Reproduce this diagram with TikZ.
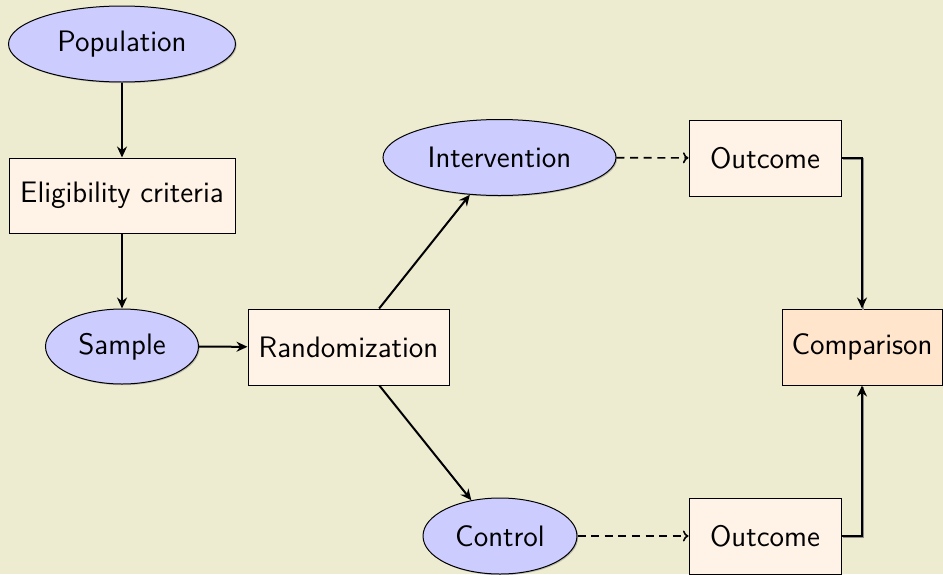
\documentclass[tikz,border=0pt]{standalone}
\usetikzlibrary{shapes.geometric,arrows.meta,shadows}
\definecolor{bgc}{RGB}{238,236,208}
\definecolor{ellfill}{RGB}{204,204,255}
\definecolor{boxfill}{RGB}{255,242,230}
\definecolor{cmpfill}{RGB}{255,229,204}
\begin{document}
\begin{tikzpicture}[x=0.5pt,y=-0.5pt,
  every node/.style={font=\sffamily\fontsize{14.8}{17}\selectfont, inner sep=0pt},
  shad/.style={drop shadow={shadow xshift=0.6pt,shadow yshift=-0.6pt,opacity=0.45}},
  ell/.style={ellipse, draw, line width=0.5pt, fill=ellfill, shad},
  box/.style={rectangle, draw, line width=0.5pt, fill=boxfill, shad},
  arr/.style={-{Stealth[length=5.5pt,width=5pt,inset=1.8pt]}, line width=1pt},
  darr/.style={-{To[length=2.8pt,width=5.5pt]}, line width=0.8pt, dash pattern=on 4pt off 2.8pt},
  elb/.style={-{Stealth[length=5.5pt,width=5pt,inset=1.8pt]}, line width=1.25pt},
  elbshad/.style={line width=1.25pt, black!45, transform canvas={xshift=0.6pt,yshift=-0.6pt}},
]
\fill[bgc] (0,0) rectangle (943,574);
\clip (0,0) rectangle (943,574);

\node[ell, minimum width=113.5pt, minimum height=38pt] (pop) at (122,44) {Population};
\node[box, minimum width=113pt, minimum height=37.5pt] (elig) at (122,195.5) {Eligibility criteria};
\node[ell, minimum width=76.5pt, minimum height=37.5pt] (samp) at (122,346.5) {Sample};
\node[box, minimum width=100.5pt, minimum height=38pt] (rand) at (348.5,347) {Randomization};
\node[ell, minimum width=116.5pt, minimum height=38pt] (int) at (499.5,157.5) {Intervention};
\node[ell, minimum width=77pt, minimum height=38pt] (ctrl) at (500,536) {Control};
\node[box, minimum width=76pt, minimum height=38pt] (out1) at (765,158) {Outcome};
\node[box, minimum width=76pt, minimum height=38pt] (out2) at (765,536) {Outcome};
\node[box, fill=cmpfill, minimum width=80pt, minimum height=38pt] (cmp) at (862,347) {Comparison};

\draw[arr] (pop) -- (elig);
\draw[arr] (elig) -- (samp);
\draw[arr] (samp) -- (rand);
\draw[arr] (rand) -- (int);
\draw[arr] (rand) -- (ctrl);
\draw[darr] (int) -- (out1);
\draw[darr] (ctrl) -- (out2);
\draw[elbshad] (out1.east) -| (cmp.north);
\draw[elbshad] (out2.east) -| (cmp.south);
\draw[elb] (out1.east) -| (cmp.north);
\draw[elb] (out2.east) -| (cmp.south);
\end{tikzpicture}
\end{document}
